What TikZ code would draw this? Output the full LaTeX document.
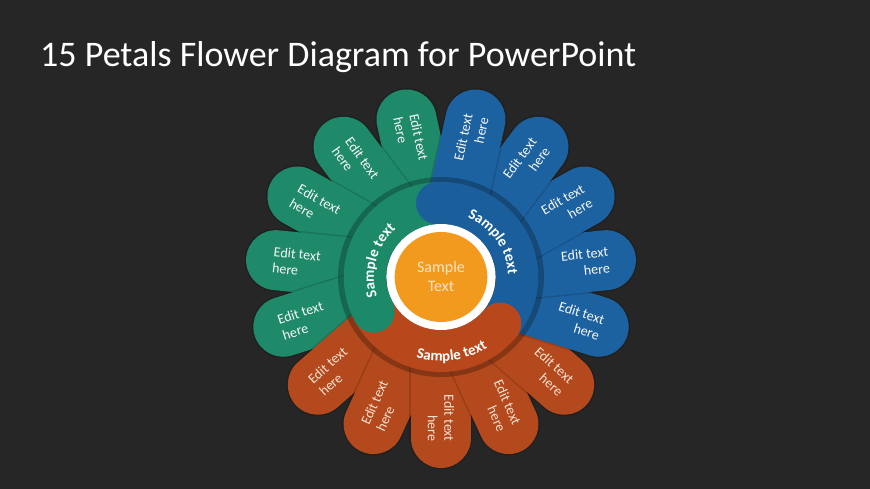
\documentclass[tikz,border=0pt]{standalone}
\usepackage{fontspec}
\setmainfont{Carlito}
\usetikzlibrary{decorations.text}
\definecolor{bg}{HTML}{262626}
\definecolor{pgreen}{HTML}{1E8A6A}
\definecolor{pblue}{HTML}{1D62A0}
\definecolor{porange}{HTML}{B3491C}
\definecolor{lgreen}{HTML}{1C8A68}
\definecolor{lblue}{HTML}{1B5E9C}
\definecolor{lorange}{HTML}{B8481B}
\definecolor{core}{HTML}{F29A1E}
\definecolor{coretext}{HTML}{FCE3C2}
\definecolor{oretext}{HTML}{F9E2D4}
\newcommand\sampfont{\bfseries\fontsize{15}{15}\selectfont}
\begin{document}
\begin{tikzpicture}[x=1.03pt,y=1pt,
  petal/.style={line width=60pt, line cap=round},
  petalshadow/.style={line width=63pt, line cap=round, draw=black, draw opacity=0.14},
  edit/.style={text=white!94!gray, font=\fontsize{14}{16.5}\selectfont, inner sep=0pt},
  lobe/.style={line width=42pt},
  arclabel/.style={decorate, decoration={text along path, text align=center, text color=white, text={|\sampfont|Sample text}}}]
\fill[bg] (-441pt,-212pt) rectangle (429pt,277pt);
\useasboundingbox (-441pt,-212pt) rectangle (429pt,277pt);
\node[anchor=base west, text=white, font=\fontsize{36}{40}\selectfont, inner sep=0pt] (title) at (-401pt,210pt) {15 Petals Flower Diagram for PowerPoint};
% petals
\foreach \a/\c in {102/pgreen,126/pgreen,150/pgreen,174/pgreen,198/pgreen,
                   222/porange,246/porange,270/porange,294/porange,318/porange,
                   342/pblue,6/pblue,30/pblue,54/pblue,78/pblue}{
  \draw[petalshadow] (\a:80) -- (\a:161);
  \draw[petal, draw=\c] (\a:80) -- (\a:161);
}
\foreach \a in {342,6,30,54,78}
  \node[edit, align=right, rotate=\a] (t\a) at (\a:141) {Edit text\\here};
\foreach \a in {270,294,318}
  \node[edit, text=oretext, align=right, rotate=\a] (t\a) at (\a:141) {Edit text\\here};
\foreach \a in {102,126,150,174,198}
  \node[edit, align=left, rotate=\a+180] (t\a) at (\a:141) {Edit text\\here};
\foreach \a in {222,246}
  \node[edit, text=oretext, align=left, rotate=\a+180] (t\a) at (\a:141) {Edit text\\here};
% central disc
\fill[black, opacity=0.25] (0,0) circle[radius=100];
\draw[lobe, lblue] (-39:74) arc[start angle=-39, end angle=93, radius=74];
\draw[lobe, lgreen] (93:74) arc[start angle=93, end angle=208, radius=74];
\draw[lobe, lorange] (208:74) arc[start angle=208, end angle=321, radius=74];
\fill[lblue] (93:74) circle[radius=21pt];
\fill[lgreen] (208:74) circle[radius=21pt];
\fill[lorange] (321:74) circle[radius=21pt];
\path[arclabel] (220:65) arc[start angle=220, end angle=110, radius=65];
\path[arclabel] (90:65) arc[start angle=90, end angle=-22, radius=65];
\path[arclabel] (228:84) arc[start angle=228, end angle=328, radius=84];
\fill[white] (0,0) circle[radius=53];
\fill[core] (0,0) circle[radius=45];
\node[text=coretext, font=\fontsize{16}{19}\selectfont, align=center, inner sep=0pt] (core) at (0,0) {Sample\\Text};
\end{tikzpicture}
\end{document}
